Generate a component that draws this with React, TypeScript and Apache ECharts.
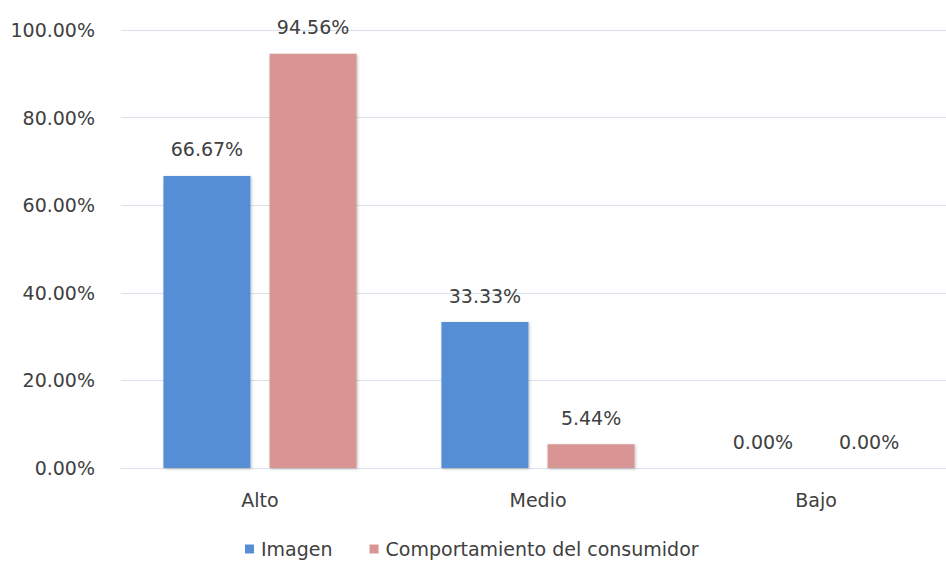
import React, { useEffect, useRef } from "react";
import * as echarts from "echarts";

const categories = ["Alto", "Medio", "Bajo"];
const imagen = [66.67, 33.33, 0.0];
const comportamiento = [94.56, 5.44, 0.0];
const seriesNames = ["Imagen", "Comportamiento del consumidor"];
const FONT = "'DejaVu Sans', sans-serif";

export default function App() {
  const ref = useRef<HTMLDivElement>(null);
  useEffect(() => {
    if (!ref.current) return;
    const chart = echarts.init(ref.current, null, { renderer: "svg" });
    const labelCfg = {
      show: true,
      position: "top" as const,
      distance: 17,
      color: "#404040",
      fontSize: 19,
      fontFamily: FONT,
      formatter: (p: any) => Number(p.value).toFixed(2) + "%",
    };
    chart.setOption({
      animation: false,
      backgroundColor: "#ffffff",
      textStyle: { fontFamily: FONT },
      grid: { left: 121, top: 30, width: 834, height: 438, containLabel: false },
      legend: {
        top: 538,
        left: 245,
        padding: 0,
        itemWidth: 9,
        itemHeight: 9,
        itemGap: 37,
        icon: "rect",
        textStyle: { color: "#404040", fontSize: 19, lineHeight: 22, fontFamily: FONT, padding: [0, 0, 0, 2] },
        data: seriesNames,
      },
      xAxis: {
        type: "category",
        data: categories,
        axisLine: { show: true, lineStyle: { color: "#d9e1ec", width: 1 } },
        axisTick: { show: false },
        axisLabel: { color: "#404040", fontSize: 19, fontFamily: FONT, margin: 22 },
      },
      yAxis: {
        type: "value",
        min: 0,
        max: 100,
        interval: 20,
        axisLine: { show: false },
        axisTick: { show: false },
        splitLine: { lineStyle: { color: "#d9e1ec", width: 1 } },
        axisLabel: {
          color: "#404040",
          fontSize: 19,
          fontFamily: FONT,
          margin: 26,
          formatter: (v: number) => v.toFixed(2) + "%",
        },
      },
      series: [
        {
          name: seriesNames[0],
          type: "bar",
          data: imagen,
          barWidth: 87,
          barGap: "22%",
          itemStyle: { color: "#558ED5", shadowBlur: 3, shadowColor: "rgba(0,0,0,0.25)", shadowOffsetX: 1, shadowOffsetY: 1 },
          label: labelCfg,
        },
        {
          name: seriesNames[1],
          type: "bar",
          data: comportamiento,
          barWidth: 87,
          itemStyle: { color: "#D99594", shadowBlur: 3, shadowColor: "rgba(0,0,0,0.25)", shadowOffsetX: 1, shadowOffsetY: 1 },
          label: labelCfg,
        },
      ],
    });
    return () => chart.dispose();
  }, []);
  return (
    <div style={{ width: 946, height: 564, position: "fixed", left: 0, top: 0, overflow: "hidden" }}>
      <div ref={ref} style={{ width: 970, height: 564 }} />
    </div>
  );
}
